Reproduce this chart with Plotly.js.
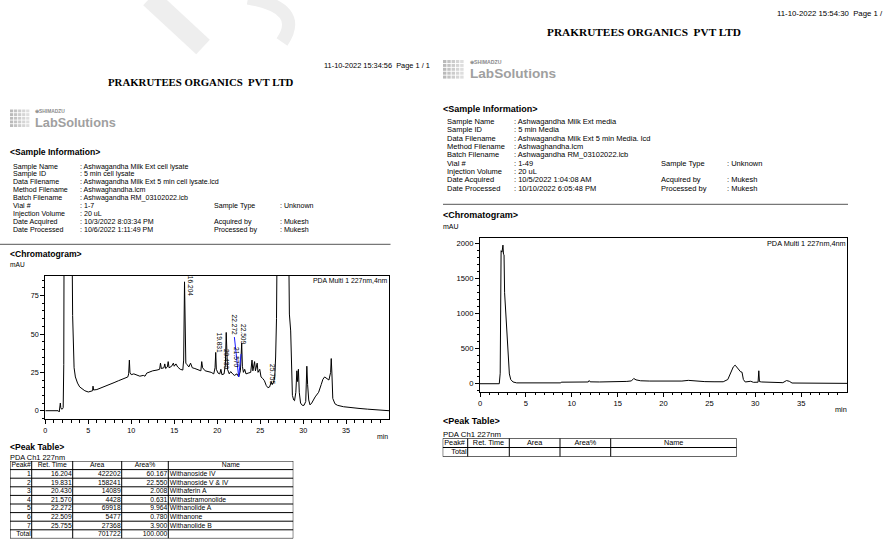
<!DOCTYPE html>
<html>
<head>
<meta charset="utf-8">
<script src="https://cdn.plot.ly/plotly-3.0.1.min.js"></script>
<style>
  html, body { margin: 0; padding: 0; background: #ffffff; }
  #chart { width: 886px; height: 542px; }
</style>
</head>
<body>
<div id="chart"></div>
<script>
// ---------- report header text ----------
const companyName = 'PRAKRUTEES ORGANICS\u00a0 PVT LTD';
const lysatePrinted = '11-10-2022 15:34:56  Page 1 / 1';
const mediaPrinted = '11-10-2022 15:54:30  Page 1 /';

const infoLabels = ['Sample Name', 'Sample ID', 'Data Filename', 'Method Filename', 'Batch Filename',
  'Vial #', 'Injection Volume', 'Date Acquired', 'Date Processed'];
const lysateInfo = [': Ashwagandha Milk Ext cell lysate', ': 5 min cell lysate',
  ': Ashwagandha Milk Ext 5 min cell lysate.lcd', ': Ashwaghandha.lcm', ': Ashwagandha RM_03102022.lcb',
  ': 1-7', ': 20 uL', ': 10/3/2022 8:03:34 PM', ': 10/6/2022 1:11:49 PM'];
const mediaInfo = [': Ashwagandha Milk Ext media', ': 5 min Media',
  ': Ashwagandha Milk Ext 5 min Media. lcd', ': Ashwaghandha.lcm', ': Ashwagandha RM_03102022.lcb',
  ': 1-49', ': 20 uL', ': 10/5/2022 1:04:08 AM', ': 10/10/2022 6:05:48 PM'];
const sideRows = [5, 7, 8];
const sideLabels = ['Sample Type', 'Acquired by', 'Processed by'];
const lysateSide = [': Unknown', ': Mukesh', ': Mukesh'];
const mediaSide = [': Unknown', ': Mukesh', ': Mukesh'];

// ---------- chromatogram: cell lysate (mAU vs min) ----------
const lysateTime = [0.0, 1.5, 1.62, 1.7, 1.75, 1.8, 1.9, 2.0, 2.08, 2.15, 2.2, 2.5, 3.0, 3.1, 3.18, 3.25, 3.35, 3.5, 3.75,
  4.0, 4.3, 4.6, 5.0, 5.3, 5.5, 5.55, 5.62, 6.0, 6.5, 7.0, 7.5, 8.0, 8.5, 9.0, 9.3, 9.6, 9.7, 9.78, 9.85,
  10.0, 10.3, 10.6, 11.0, 11.4, 11.6, 11.8, 12.0, 12.5, 13.0, 13.3, 13.4, 13.5, 13.8, 13.9, 14.0, 14.2, 14.3,
  14.4, 14.7, 14.9, 15.0, 15.2, 15.4, 15.7, 16.0, 16.1, 16.2, 16.28, 16.35, 16.5, 16.7, 16.9, 17.1, 17.4,
  17.8, 18.1, 18.2, 18.3, 18.6, 19.0, 19.3, 19.6, 19.75, 19.83, 19.9, 20.1, 20.3, 20.43, 20.55, 20.8, 20.95,
  21.05, 21.12, 21.2, 21.4, 21.57, 21.8, 22.0, 22.3, 22.5, 22.7, 22.85, 22.93, 23.05, 23.2, 23.35, 23.6,
  23.9, 24.05, 24.15, 24.35, 24.45, 24.65, 24.75, 24.95, 25.1, 25.3, 25.5, 25.7, 25.9, 26.1, 26.3, 26.4,
  26.55, 26.7, 26.8, 26.9, 27.0, 27.2, 28.0, 28.3, 28.4, 28.55, 28.65, 28.75, 28.9, 29.0, 29.15, 29.27,
  29.35, 29.45, 29.55, 29.7, 29.9, 30.1, 30.3, 30.43, 30.52, 30.65, 30.8, 31.0, 31.4, 31.8, 32.1, 32.3,
  32.5, 32.75, 33.0, 33.2, 33.27, 33.35, 33.45, 33.7, 34.0, 34.7, 35.5, 36.5, 37.5, 38.5, 39.99];
const lysateMAU = [0, 0, -0.8, 2, 5, 2, 1, 1.2, 2, 30, 150, 600, 300, 120, 62, 38, 28, 22, 18,
  15.5, 14, 13, 12.2, 12.5, 13, 16, 13.5, 13.8, 14.8, 15.8, 17, 18.3, 19.5, 20.5, 21, 22, 24, 33, 25,
  23.5, 24, 23.5, 22.5, 23, 22.5, 24.5, 25, 26, 26.5, 27, 31, 27.5, 28, 30.5, 27.5, 28.5, 32,
  28, 29, 31, 29, 30.5, 28.5, 27, 26.5, 33, 84, 45, 31, 30, 28.5, 31, 28, 27.5,
  26.5, 26, 32, 28, 26, 25.5, 25, 24, 28, 38, 27, 24.5, 24, 27, 23.5, 24, 30,
  51, 34, 27, 24, 25.5, 24, 23, 24, 22, 26, 44, 29, 25, 27, 24, 24.5,
  25, 33, 26, 32, 26, 31, 25, 27, 22, 21, 19.5, 16.5, 15, 15.5, 19, 17,
  18.5, 22, 35, 60, 90, 200, 800, 120, 63, 52, 22, 10, 7, 6.5, 12, 26,
  19, 27, 12, 5, 3.5, 3.5, 6, 29, 17, 7, 3.8, 5, 9, 12, 17, 20.5,
  22, 21, 20, 25, 34, 24, 8, 4.5, 3.5, 2.6, 2, 1.5, 1, 0.5, 0];

// integration baseline drawn in blue around the 22.272 / 22.509 pair
const baselineTime = [22.0, 22.5, 22.78];
const baselineMAU = [48, 22, 37];

// ---------- chromatogram: media (mAU vs min) ----------
const mediaTime = [0, 2.1, 2.2, 2.3, 2.4, 2.5, 2.56, 2.62, 2.68, 2.8, 2.9, 3.0, 3.1, 3.2, 3.35, 3.6, 4.0, 5.0,
  6.0, 7.0, 8.0, 8.8, 8.85, 10.0, 11.0, 11.8, 11.9, 12.0, 13.0, 14.0, 15.0, 15.2, 16.0, 16.5, 16.75, 17.0,
  17.5, 18.5, 20.0, 21.0, 22.0, 22.7, 23.0, 23.5, 24.5, 25.5, 26.5, 27.0, 27.3, 27.6, 27.8, 28.0, 28.2,
  28.4, 28.55, 28.6, 28.7, 28.9, 29.5, 29.8, 30.3, 30.38, 30.45, 30.7, 31.5, 33.0, 33.4, 33.7, 34.0, 36.0, 39.99];
const mediaMAU = [0, 0, 150, 1900, 1880, 1980, 1850, 1840, 1300, 1000, 800, 550, 300, 140, 60, 25, 12, 10,
  10, 10, 11, 12, 22, 22, 23, 25, 45, 27, 25, 26, 27, 32, 33, 40, 75, 55,
  42, 38, 37, 35, 38, 48, 44, 38, 30, 28, 28, 60, 150, 240, 265, 230, 200,
  170, 165, 130, 60, 25, 35, 20, 22, 185, 30, 25, 18, 15, 45, 35, 10, 5, 5];

// ---------- peak table (cell lysate) ----------
const peakNo = [1, 2, 3, 4, 5, 6, 7];
const retTime = ['16.204', '19.831', '20.430', '21.570', '22.272', '22.509', '25.755'];
const peakArea = [422202, 158241, 14089, 4428, 69918, 5477, 27368];
const peakAreaPct = ['60.167', '22.550', '2.008', '0.631', '9.964', '0.780', '3.900'];
const peakName = ['Withanoside IV', 'Withanoside V & IV', 'Withaferin A', 'Withastramonolide',
  'Withanolide A', 'Withanone', 'Withanolide B'];
const totalArea = 701722;
const totalPct = '100.000';
const tableHeader = ['Peak#', 'Ret. Time', 'Area', 'Area%', 'Name'];

// where each retention-time label sits (mAU) and its sideways nudge (px)
const labelMAU = [81, 44, 33.5, 34.5, 56, 49.5, 23.5];
const labelShift = [6, 4, 5.5, 6, -2.5, 4, 6];

// ---------- page geometry helpers ----------
const W = 886, H = 542;
const FONT = 'Liberation Sans, Arial, sans-serif';
const SERIF = 'Liberation Serif, Times New Roman, serif';
const px = v => v / W;
const py = v => 1 - v / H;

const annotations = [];
const shapes = [];

// faint stamp strokes across the top of the first page
shapes.push({ type: 'line', xref: 'paper', yref: 'paper', layer: 'below',
  x0: px(150), y0: py(-2), x1: px(203), y1: py(47), line: { color: '#eeeeee', width: 20 } });
shapes.push({ type: 'path', xref: 'paper', yref: 'paper', layer: 'below',
  path: 'M ' + px(248) + ',' + py(-2) + ' Q ' + px(305) + ',' + py(8) + ' ' + px(282) + ',' + py(42),
  line: { color: '#eeeeee', width: 13 } });

function text(x, y, t, size, opt) {
  opt = opt || {};
  annotations.push({
    xref: 'paper', yref: 'paper', x: px(x), y: py(y), text: t, showarrow: false,
    xanchor: opt.anchor || 'left', yanchor: 'middle', borderpad: 0,
    font: { family: opt.family || FONT, size: size, color: opt.color || '#000000', weight: opt.weight || 'normal' }
  });
}

function hline(x0, x1, y, color, width) {
  shapes.push({ type: 'line', xref: 'paper', yref: 'paper', x0: px(x0), x1: px(x1), y0: py(y), y1: py(y),
    line: { color: color, width: width } });
}

function logo(x, y, s) {
  // grid emblem
  const cols = 5, rows = 5, cw = 4.3 * s, ch = 3.9 * s, g = 0.9 * s;
  for (let r = 0; r < rows; r++) {
    for (let c = 0; c < cols; c++) {
      const shade = 186 + c * 9;
      shapes.push({ type: 'rect', xref: 'paper', yref: 'paper', layer: 'above',
        x0: px(x + c * cw), x1: px(x + c * cw + cw - g), y0: py(y + r * ch), y1: py(y + r * ch + ch - g),
        fillcolor: 'rgb(' + shade + ',' + shade + ',' + shade + ')', line: { width: 0 } });
    }
  }
  text(x + 26 * s, y + 2.4 * s, '\u2295SHIMADZU', 5.2 * s, { color: '#8a8a8a', weight: 'bold' });
  text(x + 25.5 * s, y + 13.6 * s, 'LabSolutions', 13.6 * s, { color: '#a0a0a0', weight: 'bold' });
}

function page(o) {
  text(o.dateX, o.dateY, o.printed, o.small, { anchor: 'right' });
  text(o.titleX, o.titleY, companyName, o.title, { anchor: 'center', family: SERIF, weight: 'bold' });
  logo(o.logoX, o.logoY, o.scale);
  text(o.left, o.infoHeadY, '&lt;Sample Information&gt;', o.head, { weight: 'bold' });
  for (let i = 0; i < infoLabels.length; i++) {
    const yy = o.infoY0 + i * o.infoDY;
    text(o.left + 3.5 * o.scale, yy, infoLabels[i], o.info_size);
    text(o.valX, yy, o.info[i], o.info_size);
  }
  for (let k = 0; k < sideRows.length; k++) {
    const yy = o.infoY0 + sideRows[k] * o.infoDY;
    text(o.sideX, yy, sideLabels[k], o.info_size);
    text(o.sideValX, yy, o.side[k], o.info_size);
  }
  hline(o.ruleX0, o.ruleX1, o.ruleY, '#555555', 1);
  text(o.left, o.chromY, '&lt;Chromatogram&gt;', o.head, { weight: 'bold' });
  text(o.left, o.mauY, 'mAU', o.small - 0.8);
  text(o.minX, o.minY, 'min', o.small - 0.5, { anchor: 'right' });
  text(o.left, o.peakHeadY, '&lt;Peak Table&gt;', o.head, { weight: 'bold' });
  text(o.left, o.chY, 'PDA Ch1 227nm', o.small);
}

page({ printed: lysatePrinted, dateX: 431, dateY: 65.5, titleX: 201, titleY: 82, title: 10.8,
  logoX: 10, logoY: 109.5, scale: 0.94, left: 9, infoHeadY: 151.5, head: 8.6, small: 7.4, info_size: 7.1,
  infoY0: 166.5, infoDY: 7.9, info: lysateInfo, valX: 78.5, sideX: 212.5, sideValX: 278.5, side: lysateSide,
  ruleX0: 0, ruleX1: 390.5, ruleY: 244.3, chromY: 254, mauY: 264, minX: 389, minY: 436,
  peakHeadY: 447, chY: 457.3 });

page({ printed: mediaPrinted, dateX: 884, dateY: 13.5, titleX: 643.5, titleY: 31.5, title: 11.3,
  logoX: 443, logoY: 60, scale: 1.0, left: 442, infoHeadY: 109.5, head: 9, small: 7.8, info_size: 7.5,
  infoY0: 121.7, infoDY: 8.3, info: mediaInfo, valX: 512.5, sideX: 659.5, sideValX: 725.5, side: mediaSide,
  ruleX0: 443, ruleX1: 848, ruleY: 204.3, chromY: 215, mauY: 226.5, minX: 847.5, minY: 409,
  peakHeadY: 421, chY: 434 });

// ---------- axes ----------
function chromAxes(dom, range, dtick, minorTick, size) {
  return {
    domain: dom, range: range, dtick: dtick, tick0: 0, showline: true, mirror: true,
    linecolor: '#000000', linewidth: 1, ticks: 'outside', ticklen: 4, tickwidth: 1, tickcolor: '#000000',
    showgrid: false, zeroline: false, fixedrange: true,
    tickfont: { family: FONT, size: size, color: '#000000' },
    minor: { dtick: minorTick, ticks: 'outside', ticklen: 2.5, tickwidth: 1, tickcolor: '#000000', showgrid: false }
  };
}

const xL = chromAxes([px(45.3), px(389)], [0, 39.99], 5, 1, 7.2); xL.anchor = 'y';
const yL = chromAxes([py(419.3), py(275.7)], [-5.6, 88], 25, 5, 7.2); yL.anchor = 'x';
const xR = chromAxes([px(480), px(847)], [0, 39.99], 5, 1, 7.6); xR.anchor = 'y2';
const yR = chromAxes([py(391.7), py(237.7)], [-114, 2086], 500, 100, 7.6); yR.anchor = 'x2';

// table grids live on their own unit axes: columns in px offsets, rows in row index
const hidden = (dom, range, anchor) => ({ domain: dom, range: range, anchor: anchor, visible: false, fixedrange: true });
const colEdgesL = [0, 21.7, 62.7, 111.7, 158.3, 283.3];
const colEdgesR = [0, 25, 66.6, 117.3, 168, 294];
const rowsL = peakNo.length + 2, rowsR = 2;
const tblTopL = 461, rowHL = 8.6, tblTopR = 438.3, rowHR = 9.2;

const xT1 = hidden([px(10), px(10 + colEdgesL[5])], [0, colEdgesL[5]], 'y3');
const yT1 = hidden([py(tblTopL + rowsL * rowHL), py(tblTopL)], [rowsL, 0], 'x3');
const xT2 = hidden([px(442.7), px(442.7 + colEdgesR[5])], [0, colEdgesR[5]], 'y4');
const yT2 = hidden([py(tblTopR + rowsR * rowHR), py(tblTopR)], [rowsR, 0], 'x4');

function tableGrid(edges, rows, xr, yr) {
  for (let r = 0; r <= rows; r++) {
    shapes.push({ type: 'line', xref: xr, yref: yr, x0: edges[0], x1: edges[edges.length - 1], y0: r, y1: r,
      line: { color: '#000000', width: 1 } });
  }
  edges.forEach(e => shapes.push({ type: 'line', xref: xr, yref: yr, x0: e, x1: e, y0: 0, y1: rows,
    line: { color: '#000000', width: 1 } }));
}
tableGrid(colEdgesL, rowsL, 'x3', 'y3');
tableGrid(colEdgesR, rowsR, 'x4', 'y4');

function tableText(edges, cells, xa, ya, size) {
  const groups = { left: [], right: [], center: [] };
  cells.forEach(c => groups[c.align].push(c));
  const traces = [];
  const pos = { left: 'middle right', right: 'middle left', center: 'middle center' };
  Object.keys(groups).forEach(a => {
    const g = groups[a];
    if (!g.length) return;
    traces.push({
      type: 'scatter', mode: 'text', xaxis: xa, yaxis: ya, hoverinfo: 'skip', textposition: pos[a],
      x: g.map(c => a === 'left' ? edges[c.col] + 1.5 : a === 'right' ? edges[c.col + 1] - 1 : (edges[c.col] + edges[c.col + 1]) / 2),
      y: g.map(c => c.row + 0.55), text: g.map(c => c.text),
      textfont: { family: FONT, size: size, color: '#000000' }
    });
  });
  return traces;
}

const cellsL = [];
tableHeader.forEach((h, i) => cellsL.push({ row: 0, col: i, text: h, align: i === 0 ? 'left' : 'center' }));
peakNo.forEach((n, i) => {
  cellsL.push({ row: i + 1, col: 0, text: String(n), align: 'right' });
  cellsL.push({ row: i + 1, col: 1, text: retTime[i], align: 'right' });
  cellsL.push({ row: i + 1, col: 2, text: String(peakArea[i]), align: 'right' });
  cellsL.push({ row: i + 1, col: 3, text: peakAreaPct[i], align: 'right' });
  cellsL.push({ row: i + 1, col: 4, text: peakName[i], align: 'left' });
});
cellsL.push({ row: rowsL - 1, col: 0, text: 'Total', align: 'right' });
cellsL.push({ row: rowsL - 1, col: 2, text: String(totalArea), align: 'right' });
cellsL.push({ row: rowsL - 1, col: 3, text: totalPct, align: 'right' });

const cellsR = [];
tableHeader.forEach((h, i) => cellsR.push({ row: 0, col: i, text: h, align: i === 0 ? 'left' : 'center' }));
cellsR.push({ row: 1, col: 0, text: 'Total', align: 'right' });

// ---------- peak labels ----------
retTime.forEach((t, i) => {
  annotations.push({ xref: 'x', yref: 'y', x: parseFloat(t), y: labelMAU[i], xshift: labelShift[i],
    text: t, textangle: 90, showarrow: false, xanchor: 'center', yanchor: 'middle', borderpad: 0,
    font: { family: FONT, size: 6.6, color: '#000000' } });
});
[['x', 'y', 6.9], ['x2', 'y2', 7.3]].forEach(a => {
  annotations.push({ xref: a[0] + ' domain', yref: a[1] + ' domain', x: 1, y: 1, xanchor: 'right', yanchor: 'top',
    yshift: -0.5, text: 'PDA Multi 1 227nm,4nm', showarrow: false, borderpad: 0,
    font: { family: FONT, size: a[2], color: '#000000' } });
});

const traces = [
  { type: 'scatter', mode: 'lines', x: lysateTime, y: lysateMAU, xaxis: 'x', yaxis: 'y',
    line: { color: '#000000', width: 1 }, hoverinfo: 'skip' },
  { type: 'scatter', mode: 'lines', x: baselineTime, y: baselineMAU, xaxis: 'x', yaxis: 'y',
    line: { color: '#1a1aff', width: 1 }, hoverinfo: 'skip' },
  { type: 'scatter', mode: 'lines', x: mediaTime, y: mediaMAU, xaxis: 'x2', yaxis: 'y2',
    line: { color: '#000000', width: 1 }, hoverinfo: 'skip' }
].concat(tableText(colEdgesL, cellsL, 'x3', 'y3', 6.8), tableText(colEdgesR, cellsR, 'x4', 'y4', 7.3));

const layout = {
  width: W, height: H, margin: { l: 0, r: 0, t: 0, b: 0 },
  paper_bgcolor: '#ffffff', plot_bgcolor: 'rgba(0,0,0,0)', showlegend: false,
  xaxis: xL, yaxis: yL, xaxis2: xR, yaxis2: yR,
  xaxis3: xT1, yaxis3: yT1, xaxis4: xT2, yaxis4: yT2,
  annotations: annotations, shapes: shapes
};

Plotly.newPlot('chart', traces, layout, { staticPlot: true, displayModeBar: false });
</script>
</body>
</html>
